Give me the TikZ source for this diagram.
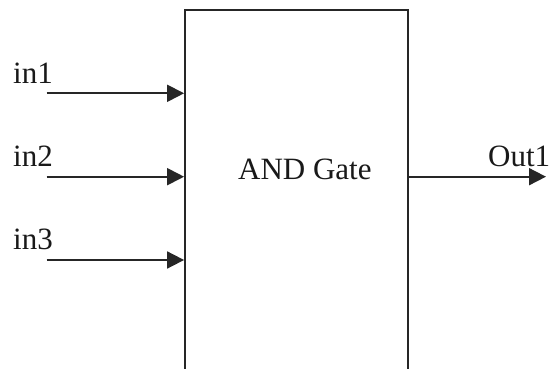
\documentclass[tikz,border=0pt]{standalone}
\usepackage{fontspec}
\setmainfont{Liberation Serif}
\usetikzlibrary{arrows.meta}
\begin{document}
\begin{tikzpicture}[x=1pt,y=1pt,
  lbl/.style={inner sep=0pt,anchor=base west,text=black!90,font=\fontsize{31}{37}\selectfont},
  gatebox/.style={draw=black!85,line width=1.8pt,minimum width=223pt,minimum height=389.5pt,inner sep=0pt},
  sig/.style={draw=black!85,line width=1.8pt,-{Triangle[length=17pt,width=17pt]}}]
\useasboundingbox (0,0) rectangle (557,369);
\clip (0,0) rectangle (557,369);
\fill[white] (0,0) rectangle (557,369);
\node[gatebox] (gate) at (296.5,164) {};
\node[lbl] (gtxt) at (238,189) {AND Gate};
\node[lbl] (l1) at (13,285) {in1};
\node[lbl] (l2) at (13,202) {in2};
\node[lbl] (l3) at (13,119) {in3};
\node[lbl] (lo) at (488,202) {Out1};
\coordinate (i1) at (46.7,275.7);
\coordinate (i2) at (46.7,192.3);
\coordinate (i3) at (46.7,109);
\coordinate (o) at (546,192.3);
\draw[sig] (i1) -- (i1 -| gate.west);
\draw[sig] (i2) -- (i2 -| gate.west);
\draw[sig] (i3) -- (i3 -| gate.west);
\draw[sig] (gate.east |- o) -- (o);
\end{tikzpicture}
\end{document}
